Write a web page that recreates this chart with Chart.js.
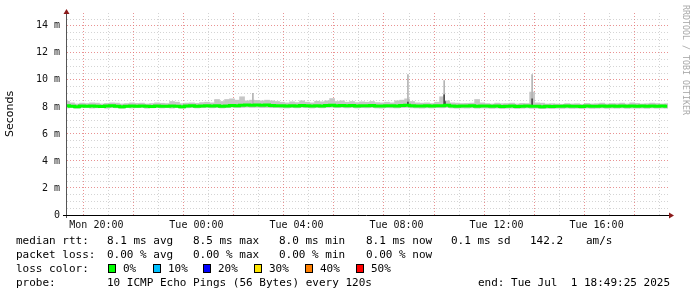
<!DOCTYPE html>
<html>
<head>
<meta charset="utf-8">
<script src="https://cdn.jsdelivr.net/npm/chart.js@4/dist/chart.umd.min.js"></script>
<style>
  body { margin: 0; background: #fff; }
  #wrap { position: relative; width: 697px; height: 297px; overflow: hidden; }
  canvas { position: absolute; left: 0; top: 0; }
  .t { position: absolute; font: 11px "DejaVu Sans Mono", monospace; color: #000; white-space: pre; line-height: 14px; }
  .box { position: absolute; top: 264px; width: 6px; height: 7px; border: 1px solid #000; }
  #mark { position: absolute; left: 691px; top: 5px; font: 8.3px "DejaVu Sans Mono", monospace; color: #a8a8a8;
          line-height: 10px; white-space: pre; transform: rotate(90deg); transform-origin: left top; }
</style>
</head>
<body>
<div id="wrap">
  <canvas id="smoke" width="697" height="297"></canvas>
  <div id="mark">RRDTOOL / TOBI OETIKER</div>
  <div id="legend"></div>
</div>
<script>
// 24h window starting Mon 18:49:25, x values are minutes from that start
const stepMin = 12;
const medianRtt = [
  8.08, 8.05, 8.02, 8.06, 8.04, 8.07, 8.05, 8.03, 8.06, 8.08,
  8.05, 8.02, 8.04, 8.06, 8.05, 8.07, 8.04, 8.03, 8.06, 8.05,
  8.04, 8.07, 8.05, 8.02, 8.06, 8.08, 8.05, 8.07, 8.09, 8.06,
  8.08, 8.05, 8.07, 8.10, 8.09, 8.12, 8.14, 8.13, 8.15, 8.12,
  8.14, 8.11, 8.09, 8.08, 8.06, 8.09, 8.07, 8.10, 8.08, 8.06,
  8.09, 8.07, 8.10, 8.12, 8.09, 8.11, 8.08, 8.10, 8.07, 8.09,
  8.08, 8.10, 8.07, 8.06, 8.09, 8.08, 8.07, 8.10, 8.12, 8.08,
  8.07, 8.06, 8.08, 8.07, 8.09, 8.08, 8.12, 8.07, 8.05, 8.07,
  8.06, 8.08, 8.05, 8.07, 8.06, 8.04, 8.06, 8.03, 8.05, 8.06,
  8.03, 8.05, 8.07, 8.04, 8.05, 8.02, 8.04, 8.03, 8.05, 8.04,
  8.06, 8.04, 8.05, 8.03, 8.06, 8.04, 8.05, 8.07, 8.04, 8.06,
  8.05, 8.07, 8.04, 8.06, 8.05, 8.06, 8.04, 8.07, 8.05, 8.06, 8.05
];
const smokeHi = [
  8.42, 8.30, 8.22, 8.28, 8.25, 8.30, 8.28, 8.22, 8.26, 8.30,
  8.28, 8.22, 8.25, 8.30, 8.26, 8.28, 8.22, 8.25, 8.30, 8.27,
  8.25, 8.40, 8.35, 8.24, 8.28, 8.30, 8.26, 8.32, 8.35, 8.30,
  8.55, 8.40, 8.55, 8.60, 8.50, 8.75, 8.45, 8.50, 8.48, 8.45,
  8.50, 8.45, 8.40, 8.35, 8.30, 8.38, 8.32, 8.45, 8.35, 8.30,
  8.42, 8.38, 8.45, 8.62, 8.40, 8.45, 8.35, 8.40, 8.32, 8.38,
  8.35, 8.40, 8.32, 8.30, 8.35, 8.30, 8.45, 8.50, 8.60, 8.40,
  8.30, 8.28, 8.30, 8.25, 8.35, 8.75, 8.45, 8.30, 8.28, 8.25,
  8.26, 8.28, 8.55, 8.30, 8.25, 8.22, 8.28, 8.24, 8.25, 8.28,
  8.22, 8.26, 8.25, 9.10, 8.30, 8.28, 8.22, 8.24, 8.22, 8.20,
  8.25, 8.22, 8.24, 8.20, 8.26, 8.22, 8.24, 8.28, 8.22, 8.25,
  8.24, 8.28, 8.22, 8.30, 8.26, 8.22, 8.24, 8.28, 8.25, 8.22, 8.24
];
const smokeLo = [
  7.92, 7.95, 7.90, 7.94, 7.96, 7.91, 7.93, 7.95, 7.90, 7.94,
  7.93, 7.89, 7.95, 7.92, 7.94, 7.96, 7.90, 7.93, 7.95, 7.92,
  7.94, 7.91, 7.96, 7.90, 7.93, 7.95, 7.92, 7.94, 7.96, 7.93,
  7.95, 7.92, 7.94, 7.97, 7.95, 7.96, 7.98, 7.96, 7.97, 7.95,
  7.96, 7.94, 7.95, 7.93, 7.92, 7.95, 7.93, 7.96, 7.94, 7.92,
  7.95, 7.93, 7.96, 7.97, 7.94, 7.96, 7.93, 7.95, 7.92, 7.94,
  7.93, 7.95, 7.92, 7.91, 7.94, 7.93, 7.92, 7.95, 7.96, 7.93,
  7.92, 7.91, 7.93, 7.92, 7.94, 7.93, 7.96, 7.92, 7.90, 7.92,
  7.91, 7.93, 7.90, 7.92, 7.91, 7.89, 7.91, 7.88, 7.90, 7.91,
  7.88, 7.90, 7.92, 7.89, 7.90, 7.87, 7.89, 7.88, 7.90, 7.89,
  7.91, 7.89, 7.90, 7.88, 7.91, 7.89, 7.90, 7.92, 7.89, 7.91,
  7.90, 7.92, 7.89, 7.91, 7.90, 7.91, 7.89, 7.92, 7.90, 7.91, 7.90
];
// narrow outliers
const spikeT  = [446, 818, 905, 1116];
const spikeHi = [9.00, 10.40, 9.95, 10.40];
const spikeLo = [8.20, 8.20, 8.20, 8.20];
// darker cores
const darkT  = [905, 907, 818, 1116];
const darkHi = [8.90, 8.40, 8.35, 8.60];
const darkLo = [8.10, 8.10, 8.10, 8.10];

const hourTicks = [10.58, 70.58, 130.58, 190.58, 250.58, 310.58, 370.58, 430.58, 490.58, 550.58, 610.58, 670.58,
                   730.58, 790.58, 850.58, 910.58, 970.58, 1030.58, 1090.58, 1150.58, 1210.58, 1270.58, 1330.58, 1390.58];
const hourOfTick = [19, 20, 21, 22, 23, 0, 1, 2, 3, 4, 5, 6, 7, 8, 9, 10, 11, 12, 13, 14, 15, 16, 17, 18];
const xTickLabels = { 70.58: 'Mon 20:00', 310.58: 'Tue 00:00', 550.58: 'Tue 04:00', 790.58: 'Tue 08:00', 1030.58: 'Tue 12:00', 1270.58: 'Tue 16:00' };
const yTicks = [0, 0.5, 1, 1.5, 2, 2.5, 3, 3.5, 4, 4.5, 5, 5.5, 6, 6.5, 7, 7.5, 8, 8.5, 9, 9.5, 10, 10.5, 11, 11.5, 12, 12.5, 13, 13.5, 14, 14.5];

const majorGrid = 'rgba(225,110,110,0.75)';
const minorGrid = 'rgba(160,160,160,0.45)';

const axesPlugin = {
  id: 'rrdAxes',
  afterDraw(chart) {
    const { ctx, chartArea: a } = chart;
    ctx.save();
    // y axis
    ctx.strokeStyle = '#555';
    ctx.lineWidth = 1;
    ctx.beginPath();
    ctx.moveTo(a.left - 0.5, a.bottom + 3);
    ctx.lineTo(a.left - 0.5, a.top);
    ctx.stroke();
    // x axis
    ctx.strokeStyle = '#000';
    ctx.beginPath();
    ctx.moveTo(a.left - 4, a.bottom + 0.5);
    ctx.lineTo(a.right + 2, a.bottom + 0.5);
    ctx.stroke();
    // arrows
    ctx.fillStyle = '#8b1a1a';
    ctx.beginPath();
    ctx.moveTo(a.left - 0.5, a.top - 4);
    ctx.lineTo(a.left - 3.5, a.top + 1);
    ctx.lineTo(a.left + 2.5, a.top + 1);
    ctx.closePath();
    ctx.fill();
    ctx.beginPath();
    ctx.moveTo(a.right + 6, a.bottom + 0.5);
    ctx.lineTo(a.right + 1, a.bottom - 2.5);
    ctx.lineTo(a.right + 1, a.bottom + 3.5);
    ctx.closePath();
    ctx.fill();
    ctx.restore();
  }
};

function xGridColor(c) {
  if (!c.tick) return minorGrid;
  return hourOfTick[hourTicks.indexOf(c.tick.value)] % 2 === 0 ? majorGrid : minorGrid;
}
function yGridColor(c) {
  if (!c.tick) return minorGrid;
  return c.tick.value % 2 === 0 ? majorGrid : minorGrid;
}

const smokeData = smokeHi.map((h, i) => ({ x: i * stepMin, y: [smokeLo[i], h] }));
const medianData = medianRtt.map((v, i) => ({ x: i * stepMin, y: v }));

new Chart(document.getElementById('smoke'), {
  type: 'bar',
  data: {
    datasets: [
      { type: 'line', data: medianData, borderColor: '#00ff00', borderWidth: 3, pointRadius: 0, stepped: 'middle', order: 0 },
      { type: 'bar', data: darkT.map((t, i) => ({ x: t, y: [darkLo[i], darkHi[i]] })), backgroundColor: '#4a4a4a', barThickness: 1, grouped: false, order: 1 },
      { type: 'bar', data: spikeT.map((t, i) => ({ x: t, y: [spikeLo[i], spikeHi[i]] })), backgroundColor: '#b4b4b4', barThickness: 1, grouped: false, order: 2 },
      { type: 'bar', data: smokeData, backgroundColor: '#c6c6c6', barThickness: 5, grouped: false, order: 3 }
    ]
  },
  options: {
    responsive: false,
    animation: false,
    layout: { padding: { top: 10, right: 29, left: 0, bottom: 0 } },
    plugins: { legend: { display: false }, tooltip: { enabled: false } },
    scales: {
      x: {
        type: 'linear', min: 0, max: 1442, offset: false,
        afterBuildTicks: s => { s.ticks = hourTicks.map(v => ({ value: v })); },
        afterFit: s => { s.height = 82; },
        grid: { drawTicks: false, color: xGridColor },
        border: { display: false, dash: [1, 2] },
        ticks: {
          autoSkip: false, maxRotation: 0, padding: 4, color: '#111',
          font: { family: 'DejaVu Sans Mono', size: 10 },
          callback: v => xTickLabels[v] || ''
        }
      },
      y: {
        min: 0, max: 14.95,
        afterBuildTicks: s => { s.ticks = yTicks.map(v => ({ value: v })); },
        afterFit: s => { s.width = 67; },
        grid: { drawTicks: false, color: yGridColor },
        border: { display: false, dash: [1, 2] },
        ticks: {
          autoSkip: false, padding: 7, color: '#111',
          font: { family: 'DejaVu Sans Mono', size: 10 },
          callback: v => (v % 2 === 0 ? (v === 0 ? '0' : v + ' m') : '')
        },
        title: {
          display: true, text: 'Seconds', color: '#000',
          font: { family: 'DejaVu Sans', size: 11 },
          padding: { top: 4, bottom: 0 }
        }
      }
    }
  },
  plugins: [axesPlugin]
});

// text block under the graph
const rows = [
  { top: 234, items: [[16, 'median rtt:'], [107, '8.1 ms avg'], [193, '8.5 ms max'], [279, '8.0 ms min'], [366, '8.1 ms now'], [451, '0.1 ms sd'], [530, '142.2'], [586, 'am/s']] },
  { top: 248, items: [[16, 'packet loss:'], [107, '0.00 % avg'], [193, '0.00 % max'], [279, '0.00 % min'], [366, '0.00 % now']] },
  { top: 262, items: [[16, 'loss color:']] },
  { top: 276, items: [[16, 'probe:'], [107, '10 ICMP Echo Pings (56 Bytes) every 120s'], [478, 'end: Tue Jul  1 18:49:25 2025']] }
];
const lossLabels = ['0%', '10%', '20%', '30%', '40%', '50%'];
const lossColors = ['#00ff00', '#00c0ff', '#0000ff', '#ffe600', '#ff7f00', '#ff0000'];
const lossBoxX = [108, 153, 203, 254, 305, 356];
const lossTextX = [123, 168, 218, 269, 320, 371];

const legend = document.getElementById('legend');
rows.forEach(r => r.items.forEach(([x, s]) => {
  const d = document.createElement('div');
  d.className = 't';
  d.style.left = x + 'px';
  d.style.top = r.top + 'px';
  d.textContent = s;
  legend.appendChild(d);
}));
lossLabels.forEach((l, i) => {
  const b = document.createElement('div');
  b.className = 'box';
  b.style.left = lossBoxX[i] + 'px';
  b.style.background = lossColors[i];
  legend.appendChild(b);
  const d = document.createElement('div');
  d.className = 't';
  d.style.left = lossTextX[i] + 'px';
  d.style.top = '262px';
  d.textContent = l;
  legend.appendChild(d);
});
</script>
</body>
</html>
